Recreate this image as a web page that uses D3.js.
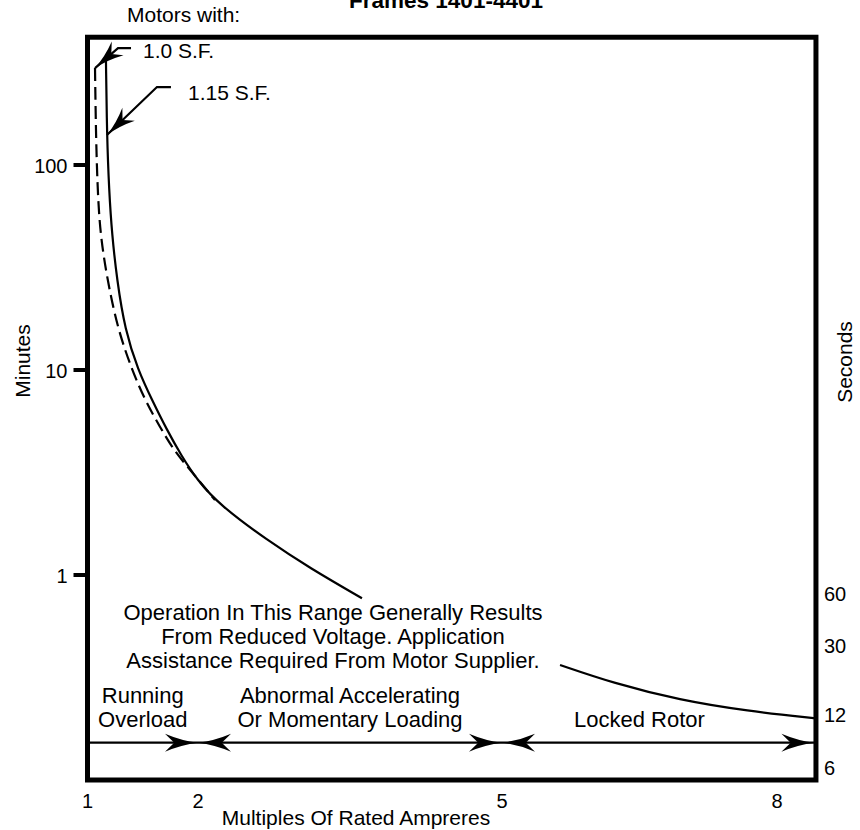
<!DOCTYPE html>
<html><head><meta charset="utf-8">
<script src="https://cdn.jsdelivr.net/npm/d3@7"></script>
<style>
body{margin:0;background:#fff}
svg text{font-family:"Liberation Sans",Arial,Helvetica,sans-serif;fill:#000}
</style>
</head><body>
<svg id="chart" width="860" height="830"></svg>
<script>
// ---------- data ----------
const xTickValues = [1, 2, 5, 8];
const minuteTickValues = [1, 10, 100];
const secondLabelValues = [6, 12, 30, 60];

// 1.15 service factor (solid): amps multiple / minutes; null = gap behind the note text
const sf115Amps    = [1.167, 1.176, 1.195, 1.222, 1.267, 1.339, 1.457, 1.584, 1.719, 1.846, 1.991, 2.217, 2.681, 3.105, 3.618, null, 5.633, 6.211, 6.942, 7.673, 8.425];
const sf115Minutes = [325,   140,   75.5,  45.6,  27.5,  15.7,  10.0,  7.14,  5.10,  3.85,  2.91,  2.19,  1.48,  1.08,  0.77,  null, 0.364, 0.297, 0.245, 0.217, 0.200];

// 1.0 service factor (dashed)
const sf10Amps    = [1.068, 1.077, 1.095, 1.122, 1.186, 1.276, 1.403, 1.520, 1.656, 1.774, 1.891, 2.168];
const sf10Minutes = [297,   132,   67.5,  43.1,  26.5,  15.7,  10.0,  7.14,  5.27,  4.12,  3.44,  2.32];

const regionBounds = [1, 2, 5, 8];
const regionLabels = [["Running", "Overload"], ["Abnormal Accelerating", "Or Momentary Loading"], ["", "Locked Rotor"]];
const noteLines = ["Operation In This Range Generally Results", "From Reduced Voltage. Application", "Assistance Required From Motor Supplier."];
const title = "Frames 1401-4401";

// ---------- scales ----------
const svg = d3.select("#chart");
const xMaxDomain = 8.425, minutesMax = 420, minutesMin = 0.1;
const x = d3.scaleLinear().domain([1, 2, 5, 8]).range([87.5, 198, 502, 777]);
const y = d3.scaleLog().domain([0.1, 100]).range([780, 165]);
const ySec = d3.scaleLog().domain([6, 60]).range([767, 593]);

const FONT = 21;

// title (clipped at top in the original)
svg.append("text").attr("x", 446).attr("y", 8).attr("text-anchor", "middle")
  .attr("font-size", 22.5).attr("font-weight", "bold").text(title);
svg.append("text").attr("x", 127).attr("y", 22).attr("font-size", FONT).text("Motors with:");

// frame
svg.append("rect")
  .attr("x", x(1)).attr("y", y(minutesMax))
  .attr("width", x(xMaxDomain) - x(1)).attr("height", y(minutesMin) - y(minutesMax))
  .attr("fill", "none").attr("stroke", "#000").attr("stroke-width", 5);

// left ticks + labels
const lt = svg.append("g");
lt.selectAll("line").data(minuteTickValues).join("line")
  .attr("x1", x(1) - 14).attr("x2", x(1)).attr("y1", d => y(d)).attr("y2", d => y(d))
  .attr("stroke", "#000").attr("stroke-width", 4);
lt.selectAll("text").data(minuteTickValues).join("text")
  .attr("x", x(1) - 20).attr("y", d => y(d) + 7.5).attr("text-anchor", "end")
  .attr("font-size", 20).text(d => d);

// bottom tick labels
svg.append("g").selectAll("text").data(xTickValues).join("text")
  .attr("x", d => x(d)).attr("y", 808).attr("text-anchor", "middle")
  .attr("font-size", 20).text(d => d);

// right seconds labels
svg.append("g").selectAll("text").data(secondLabelValues).join("text")
  .attr("x", 824).attr("y", d => ySec(d) + 7.5).attr("font-size", 20).text(d => d);

// axis titles
svg.append("text").attr("transform", "translate(30,361) rotate(-90)").attr("text-anchor", "middle")
  .attr("font-size", FONT).text("Minutes");
svg.append("text").attr("transform", "translate(852,362) rotate(-90)").attr("text-anchor", "middle")
  .attr("font-size", FONT).text("Seconds");
svg.append("text").attr("x", 356).attr("y", 825).attr("text-anchor", "middle")
  .attr("font-size", FONT).text("Multiples Of Rated Ampreres");

// curves
const solidData = sf115Amps.map((a, i) => [a, sf115Minutes[i]]);
const gapAt = solidData.findIndex(d => d[0] == null);
const solidSteep = solidData.slice(0, gapAt);
const solidFlat = solidData.slice(gapAt + 1);
const dashData = sf10Amps.map((a, i) => [a, sf10Minutes[i]]);

const smooth = d3.line().x(d => x(d[0])).y(d => y(d[1])).curve(d3.curveBasis);

svg.append("path").attr("d", smooth(solidSteep)).attr("fill", "none")
  .attr("stroke", "#000").attr("stroke-width", 2.2);
svg.append("path").attr("d", smooth(solidFlat)).attr("fill", "none")
  .attr("stroke", "#000").attr("stroke-width", 2.2);
svg.append("path").attr("d", smooth(dashData)).attr("fill", "none")
  .attr("stroke", "#000").attr("stroke-width", 2.2).attr("stroke-dasharray", "13,6");

// arrowhead helper: tip at (tx,ty), pointing along angle (radians, direction of travel)
function arrowHead(g, tx, ty, ang, L, W) {
  const p = d3.path();
  const n = 0.72 * L;
  p.moveTo(0, 0);
  p.quadraticCurveTo(-0.5 * L, -0.22 * W, -L, -W);
  p.lineTo(-n, 0);
  p.lineTo(-L, W);
  p.quadraticCurveTo(-0.5 * L, 0.22 * W, 0, 0);
  p.closePath();
  g.append("path").attr("d", p.toString())
    .attr("transform", `translate(${tx},${ty}) rotate(${ang * 180 / Math.PI})`)
    .attr("fill", "#000");
}

// S.F. leaders
function leader(tip, elbow, end, label, textX, textY) {
  const g = svg.append("g");
  g.append("polyline").attr("points", [tip, elbow, end].map(p => p.join(",")).join(" "))
    .attr("fill", "none").attr("stroke", "#000").attr("stroke-width", 2.2);
  const ang = Math.atan2(tip[1] - elbow[1], tip[0] - elbow[0]);
  arrowHead(g, tip[0], tip[1], ang, 30, 9);
  g.append("text").attr("x", textX).attr("y", textY).attr("font-size", FONT).text(label);
}
const t10 = [x(sf10Amps[0]), y(sf10Minutes[0])];
leader(t10, [t10[0] + 23, t10[1] - 20], [t10[0] + 36, t10[1] - 20], "1.0 S.F.", 143, 58);
const t115 = [x(sf115Amps[1]), y(sf115Minutes[1])];
leader(t115, [t115[0] + 50, t115[1] - 48], [t115[0] + 64, t115[1] - 48], "1.15 S.F.", 188, 100);

// note block
svg.append("g").selectAll("text").data(noteLines).join("text")
  .attr("x", 333).attr("y", (d, i) => 620 + i * 24).attr("text-anchor", "middle")
  .attr("font-size", 22).text(d => d);

// region arrows
const arrowY = y(0.152);
const rg = svg.append("g");
rg.append("line").attr("x1", x(1)).attr("x2", x(xMaxDomain)).attr("y1", arrowY).attr("y2", arrowY)
  .attr("stroke", "#000").attr("stroke-width", 2.2);
[2, 5].forEach(b => {
  arrowHead(rg, x(b), arrowY, 0, 33, 9);
  arrowHead(rg, x(b), arrowY, Math.PI, 33, 9);
});
arrowHead(rg, x(xMaxDomain) - 1.5, arrowY, 0, 33, 9);

// region labels
regionLabels.forEach((lines, i) => {
  const cx = (x(regionBounds[i]) + x(regionBounds[i + 1])) / 2;
  lines.forEach((t, j) => {
    if (!t) return;
    rg.append("text").attr("x", cx).attr("y", 703 + j * 24).attr("text-anchor", "middle")
      .attr("font-size", 22).text(t);
  });
});
</script>
</body></html>
